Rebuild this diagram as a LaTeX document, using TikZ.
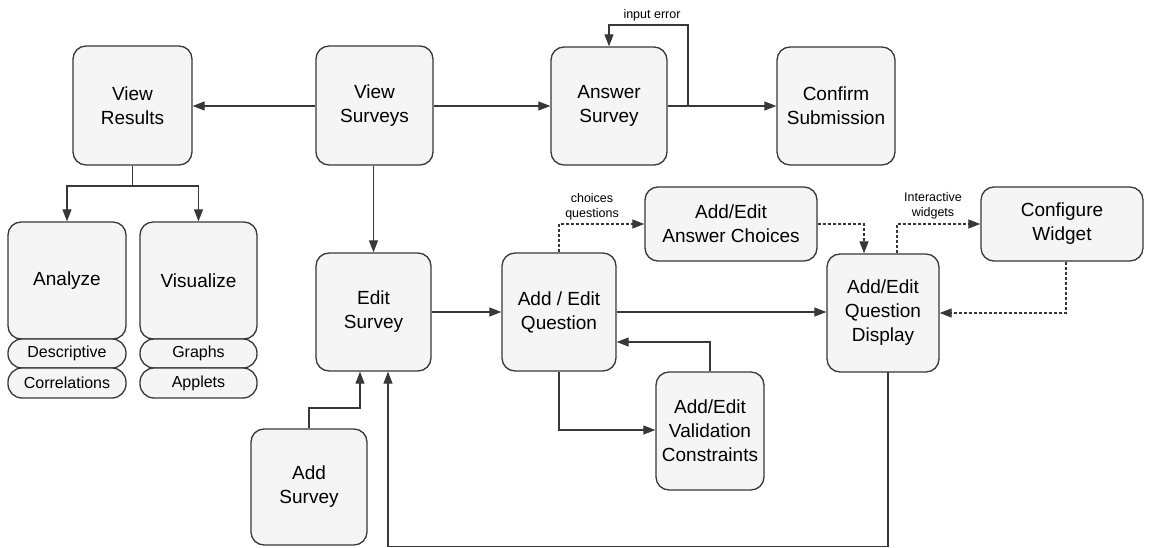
\documentclass[tikz,border=0pt]{standalone}
\usepackage{fontspec}
\setmainfont{Liberation Sans}
\usetikzlibrary{arrows.meta}
\definecolor{boxfill}{HTML}{F5F5F5}
\definecolor{linec}{HTML}{383838}
\tikzset{
  box/.style={draw=linec, line width=1.3pt, fill=boxfill, rounded corners=13pt,
    align=center, inner sep=2pt, font=\fontsize{19}{24}\selectfont, text=black},
  pill/.style={draw=linec, line width=1.3pt, fill=boxfill, rounded corners=14pt,
    align=center, inner sep=0pt, font=\fontsize{16}{19}\selectfont, text=black},
  conn/.style={draw=linec, line width=1.1pt, -{Triangle[length=12pt,width=9pt]}},
  plain/.style={draw=linec, line width=1.1pt},
  dconn/.style={conn, dash pattern=on 3pt off 2pt},
  lbl/.style={font=\fontsize{12.5}{15.5}\selectfont, align=center, text=black, inner sep=0pt}
}
\begin{document}
\begin{tikzpicture}[x=1pt,y=-1pt]
\useasboundingbox (0,0) rectangle (1156,548);
% top row
\node[box, minimum width=119pt, minimum height=119pt] (vres) at (132.5,105.5) {View\\Results};
\node[box, minimum width=117pt, minimum height=119pt] (vsur) at (374.5,105.5) {View\\Surveys};
\node[box, minimum width=116pt, minimum height=118pt] (ans) at (609,106) {Answer\\Survey};
\node[box, minimum width=118pt, minimum height=118pt] (conf) at (836,106) {Confirm\\Submission};
% analyze / visualize
\node[box, minimum width=118pt, minimum height=117pt] (anl) at (67,280.5) {Analyze};
\node[pill, minimum width=118pt, minimum height=29pt] (desc) at (67,353.5) {Descriptive};
\node[pill, minimum width=118pt, minimum height=30pt] (corr) at (67,383) {Correlations};
\node[box, minimum width=117pt, minimum height=117pt] (vis) at (198.5,280.5) {Visualize};
\node[pill, minimum width=117pt, minimum height=29pt] (graphs) at (198.5,353.5) {Graphs};
\node[pill, minimum width=117pt, minimum height=30pt] (applets) at (198.5,383) {Applets};
% middle
\node[box, minimum width=115pt, minimum height=118pt] (edit) at (373.5,312) {Edit\\Survey};
\node[box, minimum width=114pt, minimum height=118pt] (q) at (559,312) {Add / Edit\\Question};
\node[box, minimum width=172pt, minimum height=74pt] (ach) at (731,224) {Add/Edit\\Answer Choices};
\node[box, minimum width=162pt, minimum height=74pt] (cw) at (1062,224) {Configure\\Widget};
\node[box, minimum width=112pt, minimum height=118pt] (disp) at (883,313) {Add/Edit\\Question\\Display};
\node[box, minimum width=108pt, minimum height=118pt] (val) at (710,431) {Add/Edit\\Validation\\Constraints};
\node[box, minimum width=116pt, minimum height=116pt] (add) at (309,487) {Add\\Survey};
% connectors
\draw[conn] (vsur.west |- 0,106) -- (vres.east |- 0,106);
\coordinate (split) at (132.5,186);
\draw[plain] (vres.south) -- (split);
\draw[conn] (split) -| (anl.north);
\draw[conn] (split) -| (vis.north);
\draw[conn] (vsur.east |- 0,106) -- (ans.west |- 0,106);
\draw[conn] (ans.east |- 0,106) -- (conf.west |- 0,106);
\coordinate (errsrc) at (688,106);
\coordinate (errtop) at (688,25);
\draw[conn] (errsrc) -- (errtop) -| (ans.north);
\node[lbl] (errlbl) at (652,15) {input error};
\draw[conn] (vsur.south -| edit.north) -- (edit.north);
\draw[conn] (edit.east) -- (q.west);
\draw[conn] (q.east) -- (q.east -| disp.west);
\coordinate (qdown) at (559,430);
\draw[conn] (q.south) -- (qdown) -- (qdown -| val.west);
\coordinate (vup) at (710,342);
\draw[conn] (val.north) -- (vup) -- (vup -| q.east);
\coordinate (addup) at (309,408);
\coordinate (addin) at (360,408);
\draw[conn] (add.north) -- (addup) -- (addin) -- (addin |- edit.south);
\coordinate (dispout) at (888,372);
\coordinate (bottomr) at (888,546.5);
\coordinate (bottoml) at (388,546.5);
\draw[conn] (dispout) -- (bottomr) -- (bottoml) -- (bottoml |- edit.south);
% dashed
\coordinate (qtop) at (559,224);
\draw[dconn] (q.north) -- (qtop) -- (ach.west);
\node[lbl] (chlbl) at (592,207) {choices\\questions};
\coordinate (achr) at (864,224);
\draw[dconn] (ach.east) -- (achr) -- (achr |- disp.north);
\coordinate (dtop) at (897,224);
\draw[dconn] (dtop |- disp.north) -- (dtop) -- (cw.west);
\node[lbl] (iwlbl) at (933,206) {Interactive\\widgets};
\coordinate (cwdown) at (1066,313);
\draw[dconn] (cwdown |- cw.south) -- (cwdown) -- (disp.east);
\end{tikzpicture}
\end{document}
